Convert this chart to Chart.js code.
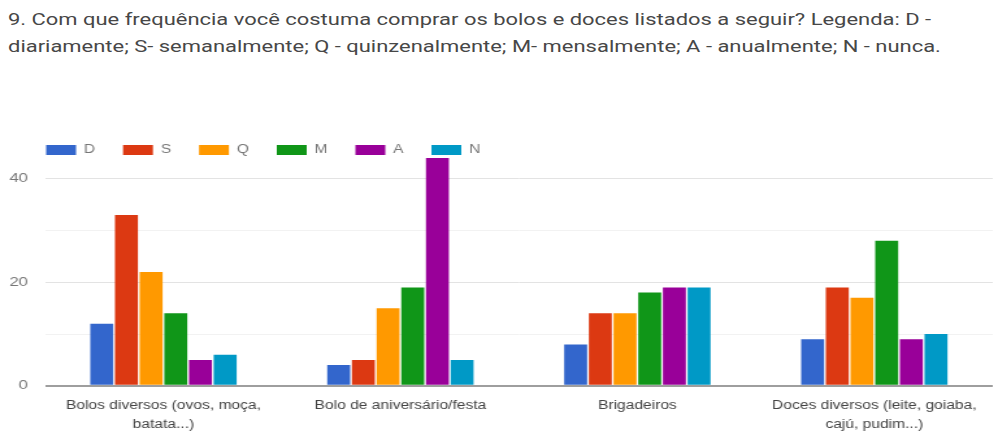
<!DOCTYPE html>
<html lang="pt">
<head>
<meta charset="UTF-8">
<title>Frequência de compra</title>
<script src="https://cdn.jsdelivr.net/npm/chart.js"></script>
<style>
  body { margin: 0; background: #fff; overflow: hidden; }
  .question {
    position: absolute; left: 8px; top: 6px;
    font-family: Roboto, "Noto Sans", sans-serif;
    font-size: 16.5px; line-height: 27px; color: #474747;
    white-space: nowrap;
    transform: scaleX(1.33); transform-origin: 0 0;
  }
  #chart { position: absolute; left: 0; top: 110px; }
</style>
</head>
<body>
  <div class="question">
    9. Com que frequência você costuma comprar os bolos e doces listados a seguir? Legenda: D -<br>
    diariamente; S- semanalmente; Q - quinzenalmente; M- mensalmente; A - anualmente; N - nunca.
  </div>
  <!-- drawn at 768px wide and stretched to the page width -->
  <canvas id="chart" width="768" height="336" style="width:998px;height:336px"></canvas>

<script>
  const categories = [
    ['Bolos diversos (ovos, moça,', 'batata...)'],
    'Bolo de aniversário/festa',
    'Brigadeiros',
    ['Doces diversos (leite, goiaba,', 'cajú, pudim...)']
  ];
  const seriesNames = ['D', 'S', 'Q', 'M', 'A', 'N'];
  const seriesColors = ['#3366cc', '#dc3912', '#ff9900', '#109618', '#990099', '#0099c6'];

  const daily = [12, 4, 8, 9];
  const weekly = [33, 5, 14, 19];
  const biweekly = [22, 15, 14, 17];
  const monthly = [14, 19, 18, 28];
  const yearly = [5, 44, 19, 9];
  const never = [6, 5, 19, 10];

  const yTicks = [0, 20, 40];

  const values = [daily, weekly, biweekly, monthly, yearly, never];
  const font = 'Arial, "Liberation Sans", sans-serif';

  // push the legend row right so it lines up with the plot area
  const legendShift = {
    id: 'legendShift',
    afterLayout(chart) { chart.legend.left += 14; }
  };

  new Chart(document.getElementById('chart'), {
    type: 'bar',
    data: {
      labels: categories,
      datasets: values.map((v, i) => ({
        label: seriesNames[i],
        data: v,
        backgroundColor: seriesColors[i],
        categoryPercentage: 0.625,
        barPercentage: 0.93
      }))
    },
    plugins: [legendShift],
    options: {
      responsive: false,
      animation: false,
      layout: { padding: { left: 0, right: 4, top: 12.5, bottom: 1 } },
      plugins: {
        tooltip: { enabled: false },
        legend: {
          position: 'top',
          align: 'start',
          maxHeight: 35.5,
          labels: {
            boxWidth: 23,
            boxHeight: 10,
            padding: 21.5,
            color: '#777',
            font: { family: font, size: 12 }
          }
        }
      },
      scales: {
        x: {
          grid: { display: false, drawTicks: false },
          border: { display: false },
          ticks: {
            color: '#444',
            padding: 10.4,
            maxRotation: 0,
            font: { family: font, size: 12, lineHeight: 1.6 }
          }
        },
        y: {
          min: 0,
          max: 44,
          afterFit: s => { s.width = 34.6; },
          border: { display: false },
          grid: {
            drawTicks: false,
            color: c => {
              const v = c.tick.value;
              if (v === 0) return '#9e9e9e';
              if (v % 20 === 0) return '#e3e3e3';
              if (v % 10 === 0) return '#f2f2f2';
              return 'rgba(0,0,0,0)';
            },
            lineWidth: c => c.tick.value === 0 ? 2 : 1
          },
          ticks: {
            stepSize: 10,
            padding: 13,
            color: '#777',
            font: { family: font, size: 13 },
            callback: v => yTicks.includes(v) ? v : ''
          }
        }
      }
    }
  });
</script>
</body>
</html>
